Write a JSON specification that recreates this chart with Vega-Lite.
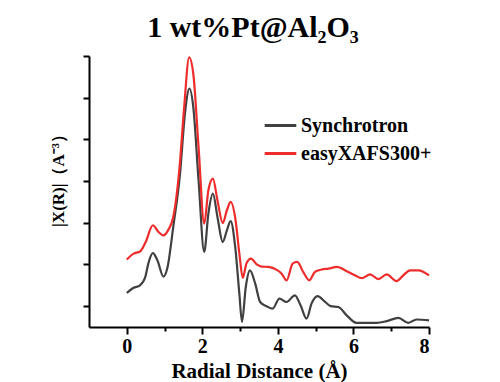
{
  "$schema": "https://vega.github.io/schema/vega-lite/v6.json",
  "width": 340,
  "height": 271,
  "autosize": "none",
  "padding": {"left": 89, "top": 56, "right": 71, "bottom": 55},
  "background": "white",
  "title": {
    "text": "1 wt%Pt@Al₂O₃",
    "font": "Liberation Serif",
    "fontSize": 30,
    "fontWeight": "bold",
    "color": "black",
    "anchor": "middle",
    "baseline": "alphabetic",
    "offset": 18,
    "dx": -6,
    "dy": 32
  },
  "config": {
    "view": {"stroke": null},
    "axis": {"domainColor": "black", "domainWidth": 2, "tickColor": "black", "tickWidth": 2, "grid": false, "labelFont": "Liberation Serif", "titleFont": "Liberation Serif", "labelColor": "black", "titleColor": "black"}
  },
  "datasets": {
    "curves": [
      {"x": 0, "y": 0.815, "s": "Synchrotron"},
      {"x": 0.18, "y": 0.94, "s": "Synchrotron"},
      {"x": 0.35, "y": 1.0, "s": "Synchrotron"},
      {"x": 0.49, "y": 1.2, "s": "Synchrotron"},
      {"x": 0.57, "y": 1.52, "s": "Synchrotron"},
      {"x": 0.69, "y": 1.77, "s": "Synchrotron"},
      {"x": 0.81, "y": 1.6, "s": "Synchrotron"},
      {"x": 0.97, "y": 1.21, "s": "Synchrotron"},
      {"x": 1.08, "y": 1.44, "s": "Synchrotron"},
      {"x": 1.23, "y": 2.4, "s": "Synchrotron"},
      {"x": 1.41, "y": 3.68, "s": "Synchrotron"},
      {"x": 1.54, "y": 5.12, "s": "Synchrotron"},
      {"x": 1.66, "y": 5.72, "s": "Synchrotron"},
      {"x": 1.76, "y": 5.28, "s": "Synchrotron"},
      {"x": 1.9, "y": 3.52, "s": "Synchrotron"},
      {"x": 2.05, "y": 1.8, "s": "Synchrotron"},
      {"x": 2.16, "y": 2.72, "s": "Synchrotron"},
      {"x": 2.28, "y": 3.2, "s": "Synchrotron"},
      {"x": 2.4, "y": 2.64, "s": "Synchrotron"},
      {"x": 2.54, "y": 2.04, "s": "Synchrotron"},
      {"x": 2.65, "y": 2.32, "s": "Synchrotron"},
      {"x": 2.75, "y": 2.54, "s": "Synchrotron"},
      {"x": 2.87, "y": 1.92, "s": "Synchrotron"},
      {"x": 2.98, "y": 0.8, "s": "Synchrotron"},
      {"x": 3.05, "y": 0.12, "s": "Synchrotron"},
      {"x": 3.15, "y": 0.96, "s": "Synchrotron"},
      {"x": 3.26, "y": 1.36, "s": "Synchrotron"},
      {"x": 3.4, "y": 1.04, "s": "Synchrotron"},
      {"x": 3.53, "y": 0.6, "s": "Synchrotron"},
      {"x": 3.7, "y": 0.5, "s": "Synchrotron"},
      {"x": 3.86, "y": 0.44, "s": "Synchrotron"},
      {"x": 4.04, "y": 0.68, "s": "Synchrotron"},
      {"x": 4.23, "y": 0.6, "s": "Synchrotron"},
      {"x": 4.45, "y": 0.76, "s": "Synchrotron"},
      {"x": 4.6, "y": 0.52, "s": "Synchrotron"},
      {"x": 4.76, "y": 0.2, "s": "Synchrotron"},
      {"x": 4.89, "y": 0.56, "s": "Synchrotron"},
      {"x": 5.05, "y": 0.74, "s": "Synchrotron"},
      {"x": 5.25, "y": 0.6, "s": "Synchrotron"},
      {"x": 5.4, "y": 0.5, "s": "Synchrotron"},
      {"x": 5.6, "y": 0.48, "s": "Synchrotron"},
      {"x": 5.82, "y": 0.28, "s": "Synchrotron"},
      {"x": 6.08, "y": 0.1, "s": "Synchrotron"},
      {"x": 6.35, "y": 0.1, "s": "Synchrotron"},
      {"x": 6.61, "y": 0.1, "s": "Synchrotron"},
      {"x": 6.88, "y": 0.14, "s": "Synchrotron"},
      {"x": 7.19, "y": 0.22, "s": "Synchrotron"},
      {"x": 7.45, "y": 0.1, "s": "Synchrotron"},
      {"x": 7.67, "y": 0.18, "s": "Synchrotron"},
      {"x": 8.0, "y": 0.16, "s": "Synchrotron"},
      {"x": 0, "y": 1.62, "s": "easyXAFS300+"},
      {"x": 0.18, "y": 1.76, "s": "easyXAFS300+"},
      {"x": 0.35, "y": 1.81, "s": "easyXAFS300+"},
      {"x": 0.5, "y": 2.04, "s": "easyXAFS300+"},
      {"x": 0.69, "y": 2.44, "s": "easyXAFS300+"},
      {"x": 0.84, "y": 2.28, "s": "easyXAFS300+"},
      {"x": 0.97, "y": 2.2, "s": "easyXAFS300+"},
      {"x": 1.1, "y": 2.33, "s": "easyXAFS300+"},
      {"x": 1.23, "y": 2.64, "s": "easyXAFS300+"},
      {"x": 1.39, "y": 3.76, "s": "easyXAFS300+"},
      {"x": 1.52, "y": 5.28, "s": "easyXAFS300+"},
      {"x": 1.65, "y": 6.47, "s": "easyXAFS300+"},
      {"x": 1.76, "y": 6.08, "s": "easyXAFS300+"},
      {"x": 1.9, "y": 4.32, "s": "easyXAFS300+"},
      {"x": 2.05, "y": 2.48, "s": "easyXAFS300+"},
      {"x": 2.16, "y": 3.28, "s": "easyXAFS300+"},
      {"x": 2.28, "y": 3.56, "s": "easyXAFS300+"},
      {"x": 2.4, "y": 3.04, "s": "easyXAFS300+"},
      {"x": 2.54, "y": 2.49, "s": "easyXAFS300+"},
      {"x": 2.65, "y": 2.8, "s": "easyXAFS300+"},
      {"x": 2.75, "y": 3.0, "s": "easyXAFS300+"},
      {"x": 2.88, "y": 2.56, "s": "easyXAFS300+"},
      {"x": 2.98, "y": 1.76, "s": "easyXAFS300+"},
      {"x": 3.07, "y": 1.18, "s": "easyXAFS300+"},
      {"x": 3.17, "y": 1.53, "s": "easyXAFS300+"},
      {"x": 3.29, "y": 1.64, "s": "easyXAFS300+"},
      {"x": 3.44, "y": 1.5, "s": "easyXAFS300+"},
      {"x": 3.57, "y": 1.45, "s": "easyXAFS300+"},
      {"x": 3.75, "y": 1.44, "s": "easyXAFS300+"},
      {"x": 3.97, "y": 1.37, "s": "easyXAFS300+"},
      {"x": 4.1, "y": 1.28, "s": "easyXAFS300+"},
      {"x": 4.23, "y": 1.12, "s": "easyXAFS300+"},
      {"x": 4.39, "y": 1.52, "s": "easyXAFS300+"},
      {"x": 4.51, "y": 1.56, "s": "easyXAFS300+"},
      {"x": 4.67, "y": 1.32, "s": "easyXAFS300+"},
      {"x": 4.83, "y": 1.12, "s": "easyXAFS300+"},
      {"x": 4.98, "y": 1.32, "s": "easyXAFS300+"},
      {"x": 5.16, "y": 1.38, "s": "easyXAFS300+"},
      {"x": 5.34, "y": 1.4, "s": "easyXAFS300+"},
      {"x": 5.56, "y": 1.44, "s": "easyXAFS300+"},
      {"x": 5.82, "y": 1.34, "s": "easyXAFS300+"},
      {"x": 6.04, "y": 1.24, "s": "easyXAFS300+"},
      {"x": 6.22, "y": 1.17, "s": "easyXAFS300+"},
      {"x": 6.44, "y": 1.26, "s": "easyXAFS300+"},
      {"x": 6.66, "y": 1.15, "s": "easyXAFS300+"},
      {"x": 6.88, "y": 1.26, "s": "easyXAFS300+"},
      {"x": 7.14, "y": 1.1, "s": "easyXAFS300+"},
      {"x": 7.32, "y": 1.24, "s": "easyXAFS300+"},
      {"x": 7.5, "y": 1.36, "s": "easyXAFS300+"},
      {"x": 7.72, "y": 1.36, "s": "easyXAFS300+"},
      {"x": 8.0, "y": 1.24, "s": "easyXAFS300+"}
    ]
  },
  "data": {"name": "curves"},
  "mark": {"type": "line", "interpolate": "monotone", "strokeWidth": 2.2},
  "encoding": {
    "x": {
      "field": "x", "type": "quantitative",
      "scale": {"domain": [-1, 8], "nice": false, "zero": false},
      "axis": {
        "values": [0, 1, 2, 3, 4, 5, 6, 7, 8],
        "labelExpr": "datum.value % 2 === 0 ? datum.label : ''",
        "tickSize": {"condition": {"test": "datum.value % 2 === 1", "value": 4}, "value": 7},
        "labelFontSize": 20, "labelFontWeight": "bold", "labelPadding": 2,
        "title": "Radial Distance (Å)", "titleFontSize": 21, "titleFontWeight": "bold", "titlePadding": 4
      }
    },
    "y": {
      "field": "y", "type": "quantitative",
      "scale": {"domain": [0, 6.5], "nice": false, "zero": false},
      "axis": {
        "values": [0.5, 1.5, 2.5, 3.5, 4.5, 5.5, 6.5],
        "labels": false, "tickSize": 6,
        "title": "|X(R)|（A⁻³）", "titleFontSize": 17, "titleFontWeight": "bold",
        "titleX": -26, "titleY": 120, "titleBaseline": "alphabetic", "titleAngle": -90
      }
    },
    "color": {
      "field": "s", "type": "nominal",
      "scale": {"domain": ["Synchrotron", "easyXAFS300+"], "range": ["#404040", "#ee2c2c"]},
      "legend": {
        "title": null, "orient": "none", "legendX": 174, "legendY": 52,
        "symbolType": "stroke", "symbolSize": 1000, "symbolStrokeWidth": 3,
        "labelFont": "Liberation Serif", "labelFontSize": 20, "labelFontWeight": "bold", "labelColor": "black",
        "labelOffset": 3, "rowPadding": -7, "labelLimit": 300
      }
    }
  }
}
